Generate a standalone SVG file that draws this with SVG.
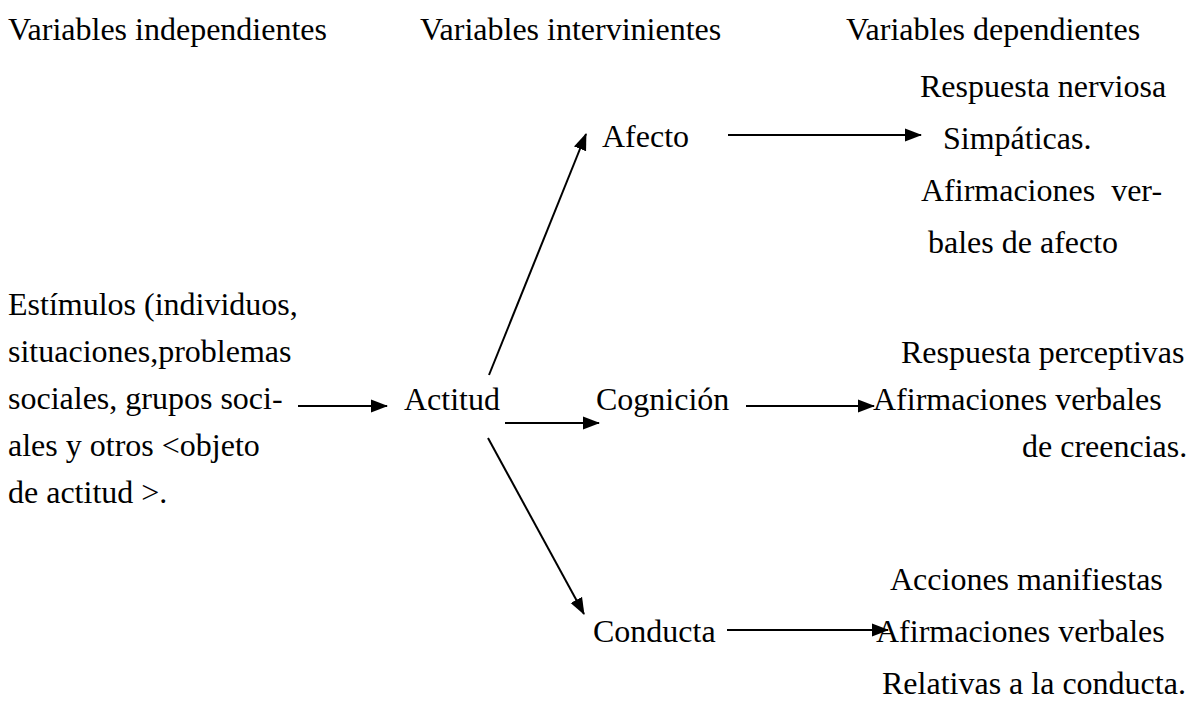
<svg xmlns="http://www.w3.org/2000/svg" width="1187" height="702" viewBox="0 0 1187 702">
<style>
.t text{font-family:'Liberation Serif','Times New Roman',Times,serif;font-size:32px;fill:#000}
.c{stroke:#000;stroke-width:2;fill:none;marker-end:url(#ah)}
</style>
<defs>
<marker id="ah" markerUnits="userSpaceOnUse" markerWidth="18" markerHeight="14" refX="16" refY="6.5" orient="auto" viewBox="0 0 18 13">
<path d="M0,0 L17,6.5 L0,13 z" fill="#000"/>
</marker>
</defs>
<rect width="1187" height="702" fill="#fff"/>
<g class="t" font-family="Liberation Serif, serif" font-size="32">
<g id="headers">
<text x="8" y="40">Variables independientes</text>
<text x="420" y="40">Variables intervinientes</text>
<text x="846" y="40">Variables dependientes</text>
</g>
<g id="estimulos">
<text x="8" y="315">Estímulos (individuos,</text>
<text x="8" y="362">situaciones,problemas</text>
<text x="8" y="409">sociales, grupos soci-</text>
<text x="8" y="456">ales y otros &lt;objeto</text>
<text x="8" y="503">de actitud &gt;.</text>
</g>
<g id="actitud"><text x="404" y="410">Actitud</text></g>
<g id="afecto"><text x="602" y="147">Afecto</text></g>
<g id="cognicion"><text x="596" y="410">Cognición</text></g>
<g id="conducta"><text x="593" y="642">Conducta</text></g>
<g id="dep-afecto">
<text x="920" y="97">Respuesta nerviosa</text>
<text x="943" y="149">Simpáticas.</text>
<text x="921" y="201" xml:space="preserve">Afirmaciones  ver-</text>
<text x="928" y="253">bales de afecto</text>
</g>
<g id="dep-cognicion">
<text x="901" y="363">Respuesta perceptivas</text>
<text x="873" y="410">Afirmaciones verbales</text>
<text x="1022" y="457">de creencias.</text>
</g>
<g id="dep-conducta">
<text x="890" y="590">Acciones manifiestas</text>
<text x="876" y="642">Afirmaciones verbales</text>
<text x="882" y="694">Relativas a la conducta.</text>
</g>
</g>
<g id="connectors">
<line class="c" x1="298" y1="406" x2="387" y2="406"/>
<line class="c" x1="505" y1="423" x2="599" y2="423"/>
<line class="c" x1="489" y1="375" x2="586" y2="134"/>
<line class="c" x1="488" y1="438" x2="584" y2="614"/>
<line class="c" x1="728" y1="135" x2="921" y2="135"/>
<line class="c" x1="746" y1="406" x2="874" y2="406"/>
<line class="c" x1="727" y1="630" x2="888" y2="630"/>
</g>
</svg>
